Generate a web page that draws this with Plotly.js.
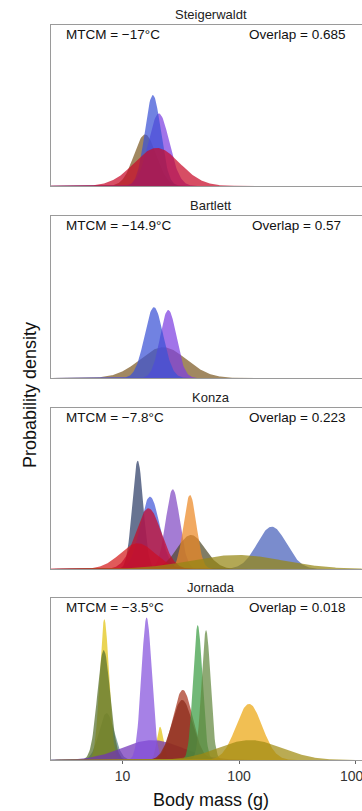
<!DOCTYPE html>
<html>
<head>
<meta charset="utf-8">
<script src="https://cdn.plot.ly/plotly-3.0.1.min.js"></script>
<style>
  html, body { margin: 0; padding: 0; background: #fff; overflow: hidden; }
  #chart { width: 400px; height: 811px; }
</style>
</head>
<body>
<div id="chart"></div>
<script>
// ---- Data ----
const sites = ["Steigerwaldt", "Bartlett", "Konza", "Jornada"];
const mtcmLabels = ["MTCM = −17°C", "MTCM = −14.9°C", "MTCM = −7.8°C", "MTCM = −3.5°C"];
const overlapLabels = ["Overlap = 0.685", "Overlap = 0.57", "Overlap = 0.223", "Overlap = 0.018"];
const xTickVals = [10, 100, 1000];
const xTickText = ["10", "100", "1000"];
const xTitle = "Body mass (g)";
const yTitle = "Probability density";

// Per species: centre body mass (g), spread (sd of log10 mass), peak density, colour
const steigMass  = [15.6, 20.5, 18.2, 19.7];
const steigSd    = [0.095, 0.09, 0.068, 0.195];
const steigPeak  = [3.46, 4.86, 6.10, 2.55];
const steigColor = ["#7d5a24", "#7d3fe0", "#3a52d6", "#c80a28"];

const bartMass  = [22.3, 24.7, 18.6];
const bartSd    = [0.2, 0.07, 0.08];
const bartPeak  = [2.05, 4.54, 4.72];
const bartColor = ["#7d5a24", "#7d3fe0", "#3a52d6"];

const konzaMass  = [191, 13.5, 17.2, 27.0, 38.7, 37.9, 13.5, 16.7, 96];
const konzaSd    = [0.125, 0.047, 0.084, 0.061, 0.12, 0.055, 0.15, 0.109, 0.39];
const konzaPeak  = [2.84, 7.27, 4.85, 5.35, 2.28, 4.97, 1.73, 4.07, 0.94];
const konzaColor = ["#4760ba", "#2c3d66", "#4258d8", "#814ac4", "#4f4a2a", "#ec8824", "#d41a1a", "#c80a28", "#968614"];

const jornMass  = [7.3, 6.98, 21, 6.9, 18, 16.1, 32.9, 32.5, 44.2, 52.1, 122, 124];
const jornSd    = [0.065, 0.04, 0.028, 0.055, 0.26, 0.045, 0.085, 0.09, 0.04, 0.039, 0.112, 0.27];
const jornPeak  = [3.13, 9.39, 2.22, 7.33, 1.33, 9.51, 4.67, 4.0, 9.0, 8.66, 3.74, 1.33];
const jornColor = ["#5a8484", "#e2c410", "#e2c410", "#56702c", "#7030b8", "#8450dc", "#a8351e", "#8b2a18", "#3a9c42", "#62883e", "#eca610", "#a08a10"];

const panels = [
  {mass: steigMass, sd: steigSd, peak: steigPeak, color: steigColor},
  {mass: bartMass,  sd: bartSd,  peak: bartPeak,  color: bartColor},
  {mass: konzaMass, sd: konzaSd, peak: konzaPeak, color: konzaColor},
  {mass: jornMass,  sd: jornSd,  peak: jornPeak,  color: jornColor}
];

// ---- Build figure ----
function hexToRgba(hex, a) {
  const n = parseInt(hex.slice(1), 16);
  return `rgba(${(n >> 16) & 255},${(n >> 8) & 255},${n & 255},${a})`;
}

const ALPHA = 0.72;
const NPTS = 500, LMIN = 0.3, LMAX = 3.3;
const grid = [];
for (let i = 0; i < NPTS; i++) grid.push(LMIN + (LMAX - LMIN) * i / (NPTS - 1));

const traces = [];
panels.forEach((p, pi) => {
  const ax = pi === 0 ? "" : String(pi + 1);
  p.mass.forEach((m, si) => {
    const mu = Math.log10(m);
    const xs = grid.map(l => Math.pow(10, l));
    const ys = grid.map(l => p.peak[si] * Math.exp(-0.5 * Math.pow((l - mu) / p.sd[si], 2)));
    traces.push({
      type: "scatter", mode: "lines",
      x: xs, y: ys,
      xaxis: "x" + ax, yaxis: "y" + ax,
      fill: "tozeroy",
      fillcolor: hexToRgba(p.color[si], ALPHA),
      line: {width: 0, color: hexToRgba(p.color[si], ALPHA)},
      hoverinfo: "skip", showlegend: false
    });
  });
});

const FONT = "Liberation Sans, Arial, Helvetica, sans-serif";
const domains = [[0.781, 1.0], [0.5197, 0.7401], [0.2599, 0.4789], [0.0, 0.2204]];
const XR = [0.386, 3.124];
const YR = [0, 10.8];

const layout = {
  width: 400, height: 811,
  margin: {l: 51, r: 30, t: 25, b: 51},
  paper_bgcolor: "#ffffff", plot_bgcolor: "#ffffff",
  font: {family: FONT, color: "#222"},
  showlegend: false,
  annotations: []
};

domains.forEach((d, i) => {
  const ax = i === 0 ? "" : String(i + 1);
  const bottom = i === domains.length - 1;
  layout["xaxis" + ax] = {
    type: "log", range: XR, domain: [0, 1], anchor: "y" + ax,
    showgrid: false, zeroline: false,
    showline: true, mirror: true, linecolor: "#9a9a9a", linewidth: 1,
    ticks: bottom ? "outside" : "", ticklen: 3, tickcolor: "#666",
    tickvals: xTickVals, ticktext: xTickText,
    showticklabels: bottom,
    tickfont: {family: FONT, size: 14, color: "#333"},
    fixedrange: true
  };
  layout["yaxis" + ax] = {
    range: YR, domain: d, anchor: "x" + ax,
    showgrid: false, zeroline: false, showticklabels: false, ticks: "",
    showline: true, mirror: true, linecolor: "#9a9a9a", linewidth: 1,
    fixedrange: true
  };
  layout.annotations.push({
    text: sites[i], xref: "paper", yref: "paper", x: 0.5, y: d[1],
    xanchor: "center", yanchor: "middle", yshift: 11, showarrow: false,
    font: {family: FONT, size: 13, color: "#222"}
  });
  layout.annotations.push({
    text: mtcmLabels[i], xref: "paper", yref: "paper", x: 0.04, y: d[1],
    xanchor: "left", yanchor: "middle", yshift: -9, showarrow: false,
    font: {family: FONT, size: 13.5, color: "#111"}
  });
  layout.annotations.push({
    text: overlapLabels[i], xref: "paper", yref: "paper", x: 0.771, y: d[1],
    xanchor: "center", yanchor: "middle", yshift: -9, showarrow: false,
    font: {family: FONT, size: 13.5, color: "#111"}
  });
});

layout.annotations.push({
  text: xTitle, xref: "paper", yref: "paper", x: 0.5, y: 0,
  xanchor: "center", yanchor: "middle", yshift: -40, showarrow: false,
  font: {family: FONT, size: 18, color: "#111"}
});
layout.annotations.push({
  text: yTitle, xref: "paper", yref: "paper", x: 0, y: 0.4966,
  xanchor: "center", yanchor: "middle", xshift: -21, textangle: -90, showarrow: false,
  font: {family: FONT, size: 18, color: "#111"}
});

Plotly.newPlot("chart", traces, layout, {staticPlot: true, displayModeBar: false});
</script>
</body>
</html>
